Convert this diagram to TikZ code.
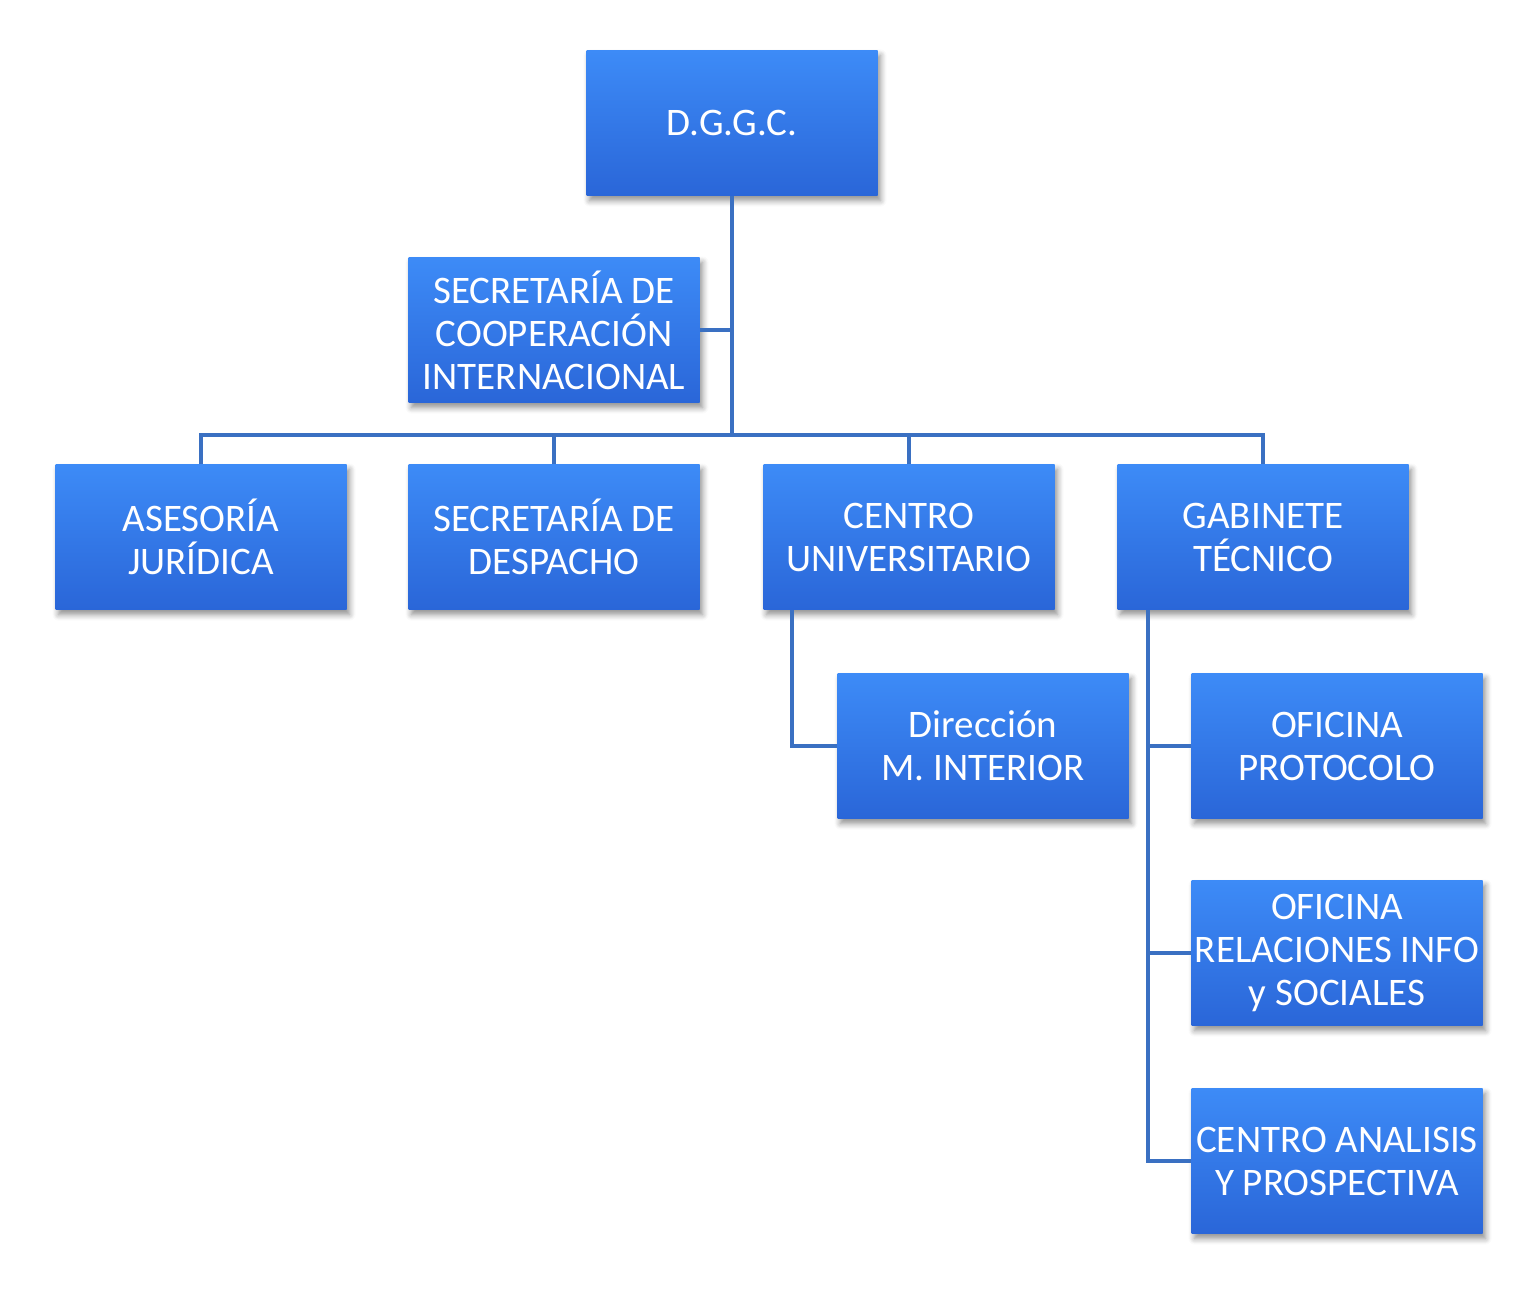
\documentclass[tikz,border=0pt]{standalone}
\usepackage{fontspec}
\setmainfont{Carlito}
\usetikzlibrary{shadows.blur}
\definecolor{boxtop}{HTML}{3D8BF7}
\definecolor{boxbot}{HTML}{2A66D8}
\definecolor{linec}{HTML}{3A70C2}
\tikzset{
  orgbox/.style={rectangle, minimum width=291pt, minimum height=145pt, inner sep=0pt,
    top color=boxtop, bottom color=boxbot, text=white, align=center,
    font=\fontsize{39}{43}\selectfont,
    blur shadow={shadow xshift=3pt, shadow yshift=-5pt, shadow blur steps=6, shadow blur radius=6pt, shadow opacity=45}},
  conn/.style={draw=linec, line width=4pt}
}
\begin{document}
\begin{tikzpicture}[x=1pt,y=-1pt]
\useasboundingbox (0,0) rectangle (1536,1297);
\coordinate (bus) at (732,435);
\node[orgbox] (dggc) at (732,123) {D.G.G.C.};
\node[orgbox] (coop) at (554,330) {SECRETARÍA DE\\COOPERACIÓN\\INTERNACIONAL};
\node[orgbox] (ases) at (201,537) {ASESORÍA\\JURÍDICA};
\node[orgbox] (desp) at (554,537) {SECRETARÍA DE\\DESPACHO};
\node[orgbox] (cent) at (909,537) {CENTRO\\UNIVERSITARIO};
\node[orgbox] (gabi) at (1263,537) {GABINETE\\TÉCNICO};
\node[orgbox] (dire) at (983,746) {Dirección\\M. INTERIOR};
\node[orgbox] (ofpr) at (1337,746) {OFICINA\\PROTOCOLO};
\node[orgbox] (ofre) at (1337,953) {OFICINA\\RELACIONES INFO\\y SOCIALES};
\node[orgbox] (cana) at (1337,1161) {CENTRO ANALISIS\\Y PROSPECTIVA};
\draw[conn] (dggc.south) -- (bus);
\draw[conn] (coop.east) -- (coop.east -| bus);
\draw[conn] (ases.north) |- (bus) -| (gabi.north);
\draw[conn] (desp.north) -- (desp.north |- bus);
\draw[conn] (cent.north) -- (cent.north |- bus);
\coordinate (ct) at ([xshift=-117pt]cent.south);
\draw[conn] (ct) |- (dire.west);
\coordinate (gt) at ([xshift=-115pt]gabi.south);
\draw[conn] (gt) |- (cana.west);
\draw[conn] (gt |- ofpr.west) -- (ofpr.west);
\draw[conn] (gt |- ofre.west) -- (ofre.west);
\end{tikzpicture}
\end{document}
